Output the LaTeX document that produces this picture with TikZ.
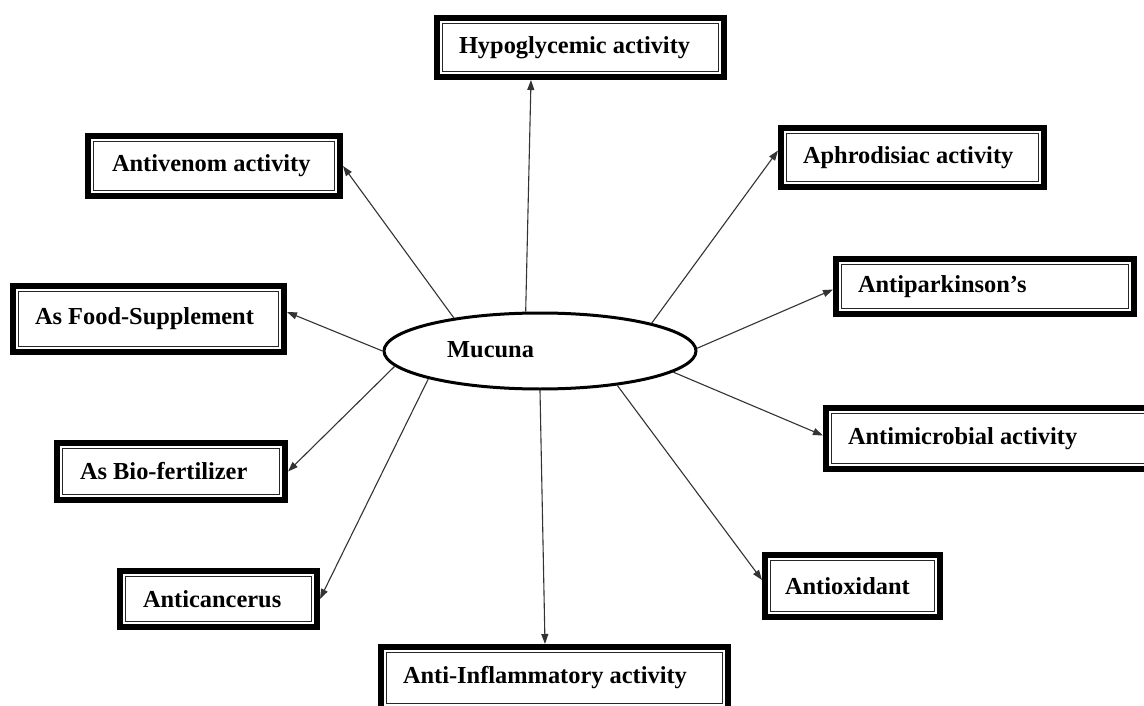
\documentclass[tikz,border=0pt]{standalone}
\usepackage{fontspec}
\setmainfont{Liberation Serif}
\usetikzlibrary{arrows.meta,shapes.geometric}
\begin{document}
\begin{tikzpicture}[x=1pt,y=-1pt,
  boxf/.style={draw=black, line width=6pt, fill=white, anchor=north west, inner ysep=0pt,
    font=\bfseries\fontsize{24.4}{28}\selectfont, text=black},
  inner/.style={draw=black!85, line width=1.4pt},
  conn/.style={draw=black!80, line width=1.1pt, -{Triangle[length=10pt,width=7pt]}},
]
\useasboundingbox[fill=white] (0,0) rectangle (1144,706);

% boxes: outer corner, width W, height H, pad
\node[boxf, minimum width=287pt, minimum height=59pt, inner xsep=22pt] (hy) at (434,15)
  {\makebox[243pt][l]{Hypoglycemic activity}};
\node[boxf, minimum width=252pt, minimum height=60pt, inner xsep=24pt] (av) at (85,133)
  {\makebox[204pt][l]{Antivenom activity}};
\node[boxf, minimum width=263pt, minimum height=59pt, inner xsep=22pt] (ap) at (778,125)
  {\makebox[219pt][l]{Aphrodisiac activity}};
\node[boxf, minimum width=298pt, minimum height=55pt, inner xsep=22pt] (pk) at (833,256)
  {\makebox[254pt][l]{Antiparkinson’s}};
\node[boxf, minimum width=271pt, minimum height=66pt, inner xsep=22pt] (fs) at (10,283)
  {\makebox[227pt][l]{As Food-Supplement}};
\node[boxf, minimum width=330pt, minimum height=61pt, inner xsep=22pt] (am) at (823,405)
  {\makebox[286pt][l]{Antimicrobial activity}};
\node[boxf, minimum width=228pt, minimum height=57pt, inner xsep=23pt] (bf) at (54,440)
  {\makebox[182pt][l]{As Bio-fertilizer}};
\node[boxf, minimum width=175pt, minimum height=62pt, inner xsep=20pt] (ao) at (762,552)
  {\makebox[135pt][l]{Antioxidant}};
\node[boxf, minimum width=197pt, minimum height=56pt, inner xsep=23pt] (ac) at (117,568)
  {\makebox[151pt][l]{Anticancerus}};
\node[boxf, minimum width=347pt, minimum height=62pt, inner xsep=22pt] (ai) at (378,644)
  {\makebox[303pt][l]{Anti-Inflammatory activity}};

\foreach \n in {hy,av,ap,pk,fs,am,bf,ao,ac,ai}
  \draw[inner] ([shift={(8.5pt,-8.5pt)}]\n.north west) rectangle ([shift={(-8.5pt,8.5pt)}]\n.south east);

% central ellipse
\node[draw=black, line width=3pt, ellipse, minimum width=312pt, minimum height=76pt, inner sep=0pt, fill=white] (mu) at (540,351) {};
\node[font=\bfseries\fontsize{24.4}{28}\selectfont, anchor=west, inner sep=0pt] (mt) at (447,350) {Mucuna};

% connectors
\draw[conn] (mu.110) -- ([xshift=97pt]hy.south west);
\draw[conn] (mu.159) -- (av.east);
\draw[conn] (mu.14) -- ([yshift=7pt]ap.west);
\draw[conn] (mu.1) -- ([yshift=-3pt]pk.west);
\draw[conn] (mu.180) -- ([yshift=7pt]fs.east);
\draw[conn] (mu.351) -- ([yshift=3pt]am.west);
\draw[conn] (mu.186) -- (bf.east);
\draw[conn] (mu.336) -- ([yshift=6pt]ao.west);
\draw[conn] (mu.194) -- (ac.east);
\draw[conn] (mu.270) -- ([xshift=167pt]ai.north west);
\end{tikzpicture}
\end{document}
